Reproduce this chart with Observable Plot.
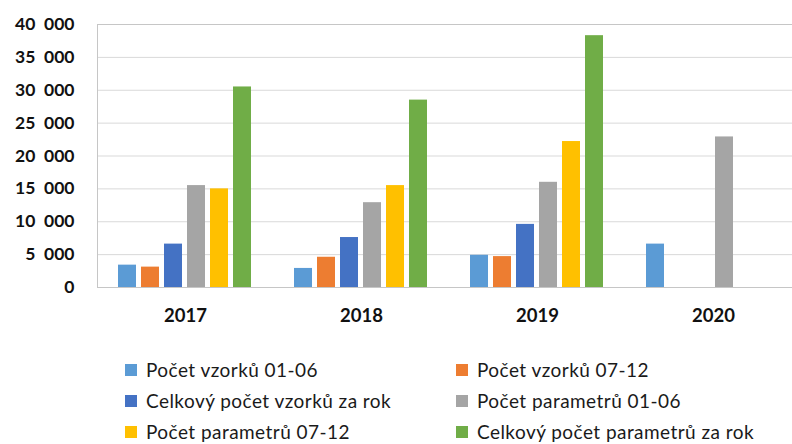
<!DOCTYPE html>
<html>
<head>
<meta charset="utf-8">
<script src="https://cdn.jsdelivr.net/npm/d3@7"></script>
<script src="https://cdn.jsdelivr.net/npm/@observablehq/plot@0.6"></script>
<style>
  html, body { margin: 0; padding: 0; background: #fff; }
  #chart { width: 792px; }
  .legend {
    display: grid;
    grid-template-columns: 331px auto;
    padding-left: 125px;
    padding-top: 9px;
    font-family: Lato, sans-serif;
    font-size: 19px;
    letter-spacing: 0.45px;
    color: #1a1a1a;
    line-height: 31px;
  }
  .legend .item { display: flex; align-items: center; white-space: nowrap; }
  .legend .sw { width: 12px; height: 12px; margin-right: 9px; flex: none; }
</style>
</head>
<body>
<div id="chart"></div>
<script>
const years = ["2017", "2018", "2019", "2020"];
const seriesNames = [
  "Počet vzorků 01-06",
  "Počet vzorků 07-12",
  "Celkový počet vzorků za rok",
  "Počet parametrů 01-06",
  "Počet parametrů 07-12",
  "Celkový počet parametrů za rok"
];
const seriesColors = ["#5b9bd5", "#ed7d31", "#4472c4", "#a5a5a5", "#ffc000", "#70ad47"];

const vzorky0106 = [3400, 2900, 4900, 6600];
const vzorky0712 = [3100, 4600, 4700, null];
const vzorkyRok = [6600, 7600, 9600, null];
const parametry0106 = [15500, 12900, 16000, 22900];
const parametry0712 = [15000, 15500, 22200, null];
const parametryRok = [30500, 28500, 38300, null];

const yTicks = [0, 5000, 10000, 15000, 20000, 25000, 30000, 35000, 40000];

const seriesValues = [vzorky0106, vzorky0712, vzorkyRok, parametry0106, parametry0712, parametryRok];
const data = [];
years.forEach((year, i) => {
  seriesNames.forEach((s, j) => {
    const v = seriesValues[j][i];
    if (v != null) data.push({year, series: s, value: v});
  });
});

const fmt = d => d3.format(",")(d).replace(/,/g, "\u2002");

const chart = Plot.plot({
  width: 792,
  height: 345,
  marginLeft: 96,
  marginRight: -9,
  marginTop: 24,
  marginBottom: 58,
  style: {fontFamily: "Lato, sans-serif", background: "white", color: "#111"},
  fx: {domain: years, padding: 0, label: null},
  x: {domain: seriesNames, paddingInner: 0.213, paddingOuter: 0.857, axis: null},
  y: {domain: [0, 40000]},
  color: {domain: seriesNames, range: seriesColors},
  marks: [
    Plot.gridY(yTicks.slice(1, -1), {stroke: "#d9d9d9", strokeOpacity: 1}),
    Plot.barY(data, {fx: "year", x: "series", y: "value", fill: "series"}),
    Plot.ruleY([0, 40000], {stroke: "#c6c6c6"}),
    Plot.frame({anchor: "left", stroke: "#c6c6c6", facetAnchor: "left"}),
    Plot.axisY(yTicks, {tickSize: 0, tickPadding: 23, tickFormat: fmt, fontWeight: "bold", fontSize: 17.5, label: null}),
    Plot.axisFx({anchor: "bottom", tickSize: 0, tickPadding: 21, fontWeight: "bold", fontSize: 18.5, label: null})
  ]
});
document.getElementById("chart").appendChild(chart);

const legend = document.createElement("div");
legend.className = "legend";
seriesNames.forEach((s, j) => {
  const item = document.createElement("div");
  item.className = "item";
  const sw = document.createElement("span");
  sw.className = "sw";
  sw.style.background = seriesColors[j];
  const t = document.createElement("span");
  t.textContent = s;
  item.appendChild(sw);
  item.appendChild(t);
  legend.appendChild(item);
});
document.getElementById("chart").appendChild(legend);
</script>
</body>
</html>
